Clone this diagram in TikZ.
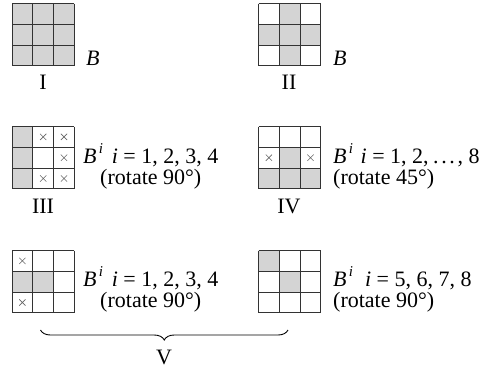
\documentclass[tikz,border=0pt]{standalone}
\usepackage{fontspec}
\setmainfont{Liberation Serif}
\usetikzlibrary{decorations.pathreplacing}
\newcommand{\Bsup}{\textit{B}\hspace{0.1em}\raisebox{0.42em}{\fontsize{15}{15}\selectfont\textit{i}}}
\begin{document}
\begin{tikzpicture}[x=1pt,y=-1pt,font=\fontsize{22}{21}\selectfont,
  cellfill/.style={fill=black!17},
  gridline/.style={draw=black!80,line width=0.9pt},
  xmark/.style={draw=black!60,line width=0.6pt},
  lbl/.style={inner sep=0pt}]
  \useasboundingbox (0,0) rectangle (495,370);
  % I: every cell shaded
  \begin{scope}[shift={(12,3.5)},x=20.8pt,y=-20.8pt]
    \foreach \r in {0,1,2}{\foreach \c in {0,1,2}{\fill[cellfill] (\c,\r) rectangle ++(1,1);}}
    \foreach \k in {0,...,3}{\draw[gridline] (\k,0) -- (\k,3); \draw[gridline] (0,\k) -- (3,\k);}
  \end{scope}
  % II: cross shaped
  \begin{scope}[shift={(258.5,3.5)},x=20.8pt,y=-20.8pt]
    \foreach \c/\r in {1/0,0/1,1/1,2/1,1/2}{\fill[cellfill] (\c,\r) rectangle ++(1,1);}
    \foreach \k in {0,...,3}{\draw[gridline] (\k,0) -- (\k,3); \draw[gridline] (0,\k) -- (3,\k);}
  \end{scope}
  % III
  \begin{scope}[shift={(12,126.5)},x=20.8pt,y=-20.8pt]
    \foreach \c/\r in {0/0,0/1,0/2}{\fill[cellfill] (\c,\r) rectangle ++(1,1);}
    \foreach \c/\r in {1/0,2/0,2/1,1/2,2/2}{
      \draw[xmark] (\c+0.35,\r+0.35) -- (\c+0.65,\r+0.65) (\c+0.65,\r+0.35) -- (\c+0.35,\r+0.65);}
    \foreach \k in {0,...,3}{\draw[gridline] (\k,0) -- (\k,3); \draw[gridline] (0,\k) -- (3,\k);}
  \end{scope}
  % IV
  \begin{scope}[shift={(258.5,126.5)},x=20.8pt,y=-20.8pt]
    \foreach \c/\r in {1/1,0/2,1/2,2/2}{\fill[cellfill] (\c,\r) rectangle ++(1,1);}
    \foreach \c/\r in {0/1,2/1}{
      \draw[xmark] (\c+0.35,\r+0.35) -- (\c+0.65,\r+0.65) (\c+0.65,\r+0.35) -- (\c+0.35,\r+0.65);}
    \foreach \k in {0,...,3}{\draw[gridline] (\k,0) -- (\k,3); \draw[gridline] (0,\k) -- (3,\k);}
  \end{scope}
  % V, left
  \begin{scope}[shift={(12,250.5)},x=20.8pt,y=-20.8pt]
    \foreach \c/\r in {0/1,1/1}{\fill[cellfill] (\c,\r) rectangle ++(1,1);}
    \foreach \c/\r in {0/0,0/2}{
      \draw[xmark] (\c+0.35,\r+0.35) -- (\c+0.65,\r+0.65) (\c+0.65,\r+0.35) -- (\c+0.35,\r+0.65);}
    \foreach \k in {0,...,3}{\draw[gridline] (\k,0) -- (\k,3); \draw[gridline] (0,\k) -- (3,\k);}
  \end{scope}
  % V, right
  \begin{scope}[shift={(258.5,250.5)},x=20.8pt,y=-20.8pt]
    \foreach \c/\r in {0/0,1/1}{\fill[cellfill] (\c,\r) rectangle ++(1,1);}
    \foreach \k in {0,...,3}{\draw[gridline] (\k,0) -- (\k,3); \draw[gridline] (0,\k) -- (3,\k);}
  \end{scope}
  % labels
  \node[lbl,anchor=base west] (BI) at (86,65) {\textit{B}};
  \node[lbl,anchor=base] (numI) at (43,89) {I};
  \node[lbl,anchor=base west] (BII) at (333,65) {\textit{B}};
  \node[lbl,anchor=base] (numII) at (289,89) {II};
  \node[lbl,anchor=base west] (rotIIIa) at (83,163) {\Bsup\hspace{0.4em}\textit{i} = 1, 2, 3, 4};
  \node[lbl,anchor=base] (rotIIIb) at ([yshift=-21pt]rotIIIa.base) {(rotate 90°)};
  \node[lbl,anchor=base] (numIII) at (43,213) {III};
  \node[lbl,anchor=base west] (rotIVa) at (333,163)
    {\Bsup\hspace{0.35em}\textit{i} = 1, 2,\hspace{0.2em}.\hspace{0.12em}.\hspace{0.12em}.\hspace{0.12em}, 8};
  \node[lbl,anchor=base west] (rotIVb) at ([yshift=-21pt]rotIVa.base west) {(rotate 45°)};
  \node[lbl,anchor=base] (numIV) at (289,213) {IV};
  \node[lbl,anchor=base west] (rotVa) at (83,286) {\Bsup\hspace{0.4em}\textit{i} = 1, 2, 3, 4};
  \node[lbl,anchor=base] (rotVb) at ([yshift=-21pt]rotVa.base) {(rotate 90°)};
  \node[lbl,anchor=base west] (rotVc) at (333,286) {\Bsup\hspace{0.55em}\textit{i} = 5, 6, 7, 8};
  \node[lbl,anchor=base west] (rotVd) at ([yshift=-21pt]rotVc.base west) {(rotate 90°)};
  % brace under the two V masks
  \coordinate (braceL) at (40.5,330);
  \coordinate (braceR) at (288,330);
  \draw[line width=0.9pt,decorate,decoration={brace,mirror,amplitude=10pt}] (braceL) -- (braceR);
  \node[lbl,anchor=base] (labV) at (164,364) {V};
\end{tikzpicture}
\end{document}
